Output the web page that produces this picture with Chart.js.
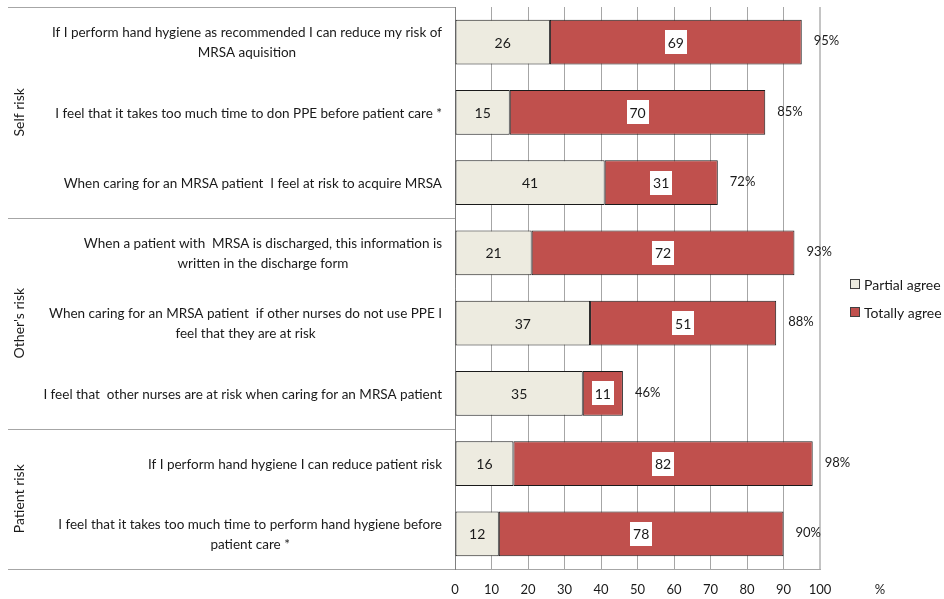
<!DOCTYPE html>
<html>
<head>
<meta charset="utf-8">
<script src="https://cdn.jsdelivr.net/npm/chart.js@4.4.0/dist/chart.umd.min.js"></script>
<style>
html, body { margin: 0; padding: 0; background: #fff; }
#wrap { width: 944px; height: 599px; }
</style>
</head>
<body>
<div id="wrap"><canvas id="myChart"></canvas></div>
<script>
// data
const categories = [
	['If I perform hand hygiene as recommended I can reduce my risk of', 'MRSA aquisition'],
	['I feel that it takes too much time to don PPE before patient care *'],
	['When caring for an MRSA patient  I feel at risk to acquire MRSA'],
	['When a patient with  MRSA is discharged, this information is', 'written in the discharge form'],
	['When caring for an MRSA patient  if other nurses do not use PPE I', 'feel that they are at risk'],
	['I feel that  other nurses are at risk when caring for an MRSA patient'],
	['If I perform hand hygiene I can reduce patient risk'],
	['I feel that it takes too much time to perform hand hygiene before', 'patient care *']
];
const groupNames = ['Self risk', "Other's risk", 'Patient risk'];
const groupSizes = [3, 3, 2];
const seriesNames = ['Partial agree', 'Totally agree'];
const partialAgree = [26, 15, 41, 21, 37, 35, 16, 12];
const totallyAgree = [69, 70, 31, 72, 51, 11, 82, 78];
const totalLabels = ['95%', '85%', '72%', '93%', '88%', '46%', '98%', '90%'];
const xMin = 0, xMax = 100, xStep = 10;
const axisUnit = '%';

const FONT = 'Lato, "Open Sans", sans-serif';
const TEXT = '#1a1a1a';
Chart.defaults.font.family = FONT;
Chart.defaults.color = TEXT;

// draws the left label panel, value labels, totals and legend
const annotate = {
	id: 'annotate',
	afterDraw(chart) {
		const c = chart.ctx;
		const area = chart.chartArea;
		const y = chart.scales.y;
		c.save();

		// panel separators
		c.strokeStyle = '#a6a6a6';
		c.lineWidth = 1;
		const bounds = [area.top];
		let idx = 0;
		groupSizes.forEach(n => {
			idx += n;
			if (idx < categories.length) {
				bounds.push((y.getPixelForValue(idx - 1) + y.getPixelForValue(idx)) / 2);
			} else {
				bounds.push(area.bottom);
			}
		});
		bounds.forEach(b => {
			const yy = Math.round(b) + 0.5;
			c.beginPath();
			c.moveTo(8, yy);
			c.lineTo(area.left, yy);
			c.stroke();
		});

		// group labels
		c.fillStyle = TEXT;
		c.font = '14px ' + FONT;
		c.textAlign = 'center';
		c.textBaseline = 'middle';
		groupNames.forEach((g, i) => {
			c.save();
			c.translate(19, (bounds[i] + bounds[i + 1]) / 2);
			c.rotate(-Math.PI / 2);
			c.fillText(g, 0, 0);
			c.restore();
		});

		// category labels
		c.font = '13.5px ' + FONT;
		categories.forEach((lines, i) => {
			const cy = y.getPixelForValue(i);
			const w = Math.max(...lines.map(l => c.measureText(l).width));
			const cx = area.left - 13 - w / 2;
			lines.forEach((l, k) => {
				c.fillText(l, cx, cy + 1 + (k - (lines.length - 1) / 2) * 20);
			});
		});

		// segment values
		c.font = '14px ' + FONT;
		const m0 = chart.getDatasetMeta(0);
		const m1 = chart.getDatasetMeta(1);
		m0.data.forEach((bar, j) => {
			c.fillStyle = TEXT;
			c.fillText(String(partialAgree[j]), (bar.x + bar.base) / 2, bar.y + 1);
		});
		m1.data.forEach((bar, j) => {
			const cx = (bar.x + bar.base) / 2;
			c.fillStyle = '#fff';
			c.fillRect(Math.round(cx - 11), Math.round(bar.y - 12), 22, 24);
			c.fillStyle = TEXT;
			c.fillText(String(totallyAgree[j]), cx, bar.y + 1);
			// totals
			c.textAlign = 'left';
			c.font = '13px ' + FONT;
			c.fillText(totalLabels[j], bar.x + 12, bar.y - 1);
			c.font = '14px ' + FONT;
			c.textAlign = 'center';
		});

		// axis unit
		c.font = '13px ' + FONT;
		c.fillText(axisUnit, 880, area.bottom + 21);

		// legend
		c.textAlign = 'left';
		c.font = '14px ' + FONT;
		chart.data.datasets.forEach((ds, i) => {
			const ly = 285 + i * 28;
			c.fillStyle = ds.backgroundColor;
			c.fillRect(850.5, ly - 5.5, 9, 9);
			c.strokeStyle = '#404040';
			c.lineWidth = 1;
			c.strokeRect(850.5, ly - 5.5, 9, 9);
			c.fillStyle = TEXT;
			c.fillText(ds.label, 864, ly);
		});

		c.restore();
	}
};

const ctx = document.getElementById('myChart').getContext('2d');
const myChart = new Chart(ctx, {
	type: 'bar',
	data: {
		labels: categories,
		datasets: [{
			label: seriesNames[0],
			data: partialAgree,
			backgroundColor: '#EDEBE0',
			borderColor: '#1a1a1a',
			borderWidth: 1,
			borderSkipped: false
		}, {
			label: seriesNames[1],
			data: totallyAgree,
			backgroundColor: '#C0504D',
			borderColor: '#1a1a1a',
			borderWidth: 1,
			borderSkipped: false
		}]
	},
	options: {
		indexAxis: 'y',
		responsive: true,
		maintainAspectRatio: false,
		animation: false,
		barPercentage: 0.64,
		categoryPercentage: 1,
		layout: { padding: { left: 455, right: 124, top: 7, bottom: 0 } },
		plugins: {
			legend: { display: false },
			tooltip: { enabled: false }
		},
		scales: {
			x: {
				stacked: true,
				min: xMin,
				max: xMax,
				afterFit: scale => { scale.height = 30; },
				ticks: { stepSize: xStep, padding: 13, font: { size: 13 }, color: TEXT },
				grid: {
					drawTicks: false,
					color: c => (c.tick && c.tick.value === xMax) ? '#c4c4c4' : '#a6a6a6',
					lineWidth: c => (c.tick && c.tick.value === xMax) ? 2 : 1
				},
				border: { color: '#a6a6a6' }
			},
			y: {
				stacked: true,
				ticks: { display: false },
				grid: { display: false, drawTicks: false },
				border: { color: '#7f7f7f' }
			}
		}
	},
	plugins: [annotate]
});
</script>
</body>
</html>
